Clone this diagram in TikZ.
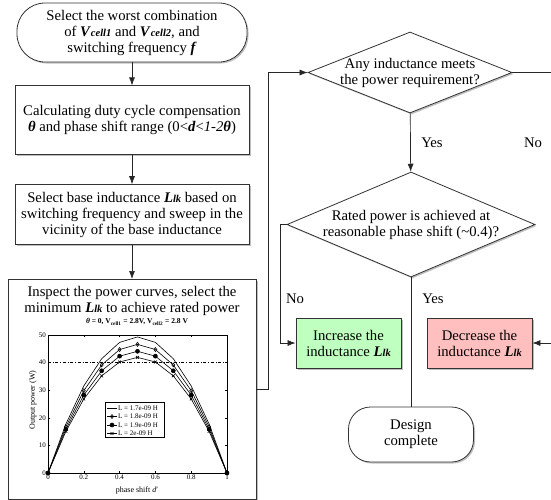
\documentclass[tikz,border=0pt]{standalone}
\usepackage{fontspec}
\setmainfont{Liberation Serif}
\usetikzlibrary{positioning,shapes.geometric,shadows,plotmarks,arrows.meta,calc}

\definecolor{incgreen}{RGB}{191,255,191}
\definecolor{decred}{RGB}{255,191,191}

\newcommand{\Vcell}[1]{\textbf{\textit{V}}{\fontsize{10.5}{12}\selectfont\textbf{\textit{cell#1}}}}
\newcommand{\Llk}{\textbf{\textit{L}}{\fontsize{10.5}{12}\selectfont\textbf{\textit{lk}}}}
\newcommand{\bth}{\textbf{\textit{θ}}}

\tikzset{
  procbox/.style={draw=black!80, line width=0.8pt, fill=white, align=center, inner sep=2pt,
    drop shadow={shadow xshift=1.5pt, shadow yshift=-1.5pt, opacity=0.5}},
  termbox/.style={procbox, rounded corners=24pt},
  decbox/.style={procbox, diamond, inner sep=-2pt},
  flow/.style={-{Latex[length=8pt,width=6pt]}, line width=0.7pt, draw=black!85},
  link/.style={line width=0.7pt, draw=black!85},
  lbl/.style={font=\fontsize{14.7}{16}\selectfont},
  ticklbl/.style={font=\fontsize{7}{8}\selectfont, inner sep=1pt},
}

\begin{document}
\begin{tikzpicture}[x=1pt, y=-1pt, font=\fontsize{14.7}{16}\selectfont]
\useasboundingbox (0,0) rectangle (551,499);

% left column
\node (worst) [termbox, rounded corners=28pt, minimum width=230pt, minimum height=59pt] at (132,32.5)
  {Select the worst combination\\ of \Vcell{1} and \Vcell{2}, and\\ switching frequency \textbf{\textit{f}}};
\node (comp) [procbox, below=23pt of worst, minimum width=234pt, minimum height=69pt]
  {Calculating duty cycle compensation\\ \bth{} and phase shift range (0<\textbf{\textit{d}}<\textit{1-2}\bth)};
\node (base) [procbox, below=29pt of comp, minimum width=234pt, minimum height=60pt]
  {Select base inductance \Llk{} based on\\ switching frequency and sweep in the\\ vicinity of the base inductance};
\node (inspect) [procbox, below=34pt of base, minimum width=248pt, minimum height=220pt] {};
\node (inspecttxt) [below=4pt of inspect.north, align=center]
  {Inspect the power curves, select the\\ minimum \Llk{} to achieve rated power};

% power curves
\node (ptitle) [font=\fontsize{7.5}{8}\selectfont\bfseries] at (137,322)
  {\textit{θ} = 0, V\textsubscript{cell1} = 2.8V, V\textsubscript{cell2} = 2.8 V};
\draw[line width=0.5pt] (48,335) rectangle (227,473);
\foreach \t in {0,0.2,0.4,0.6,0.8,1} {
  \draw[line width=0.4pt] ({48+179*\t},473) -- ++(0,-2) ({48+179*\t},335) -- ++(0,2);
  \node[ticklbl, below] at ({48+179*\t},474) {\t};
}
\foreach \v in {0,10,...,50} {
  \draw[line width=0.4pt] (48,{473-2.76*\v}) -- ++(2,0) (227,{473-2.76*\v}) -- ++(-2,0);
  \node[ticklbl, left] at (47,{473-2.76*\v}) {\v};
}
\draw[dash dot, line width=0.5pt] (48,{473-2.76*40}) -- (227,{473-2.76*40});
\foreach \pk/\mk/\mf in {49.3/none/black, 46.6/diamond/white, 44.1/*/black, 41.9/x/black}
  \draw[line width=0.6pt, mark=\mk, mark size=2pt, mark options={fill=\mf}]
    plot[domain=0:1, samples=11] ({48+179*\x}, {473-11.04*\pk*\x*(1-\x)});
\node (legend) [draw, line width=0.4pt, fill=white, minimum width=59pt, minimum height=35pt] at (134.5,419.5) {};
\foreach \lv/\mk/\mf [count=\i] in {1.7e-09/none/black, 1.8e-09/diamond/white, 1.9e-09/*/black, 2e-09/x/black} {
  \pgfmathsetmacro\ly{399.5+8.5*\i}
  \draw[line width=0.6pt] (107,\ly) -- (117,\ly);
  \path[mark=\mk, mark size=2pt, mark options={fill=\mf, line width=0.6pt}] plot coordinates {(112,\ly)};
  \node[ticklbl, anchor=west] at (117,\ly) {L = \lv{} H};
}
\node (ylab) [font=\fontsize{8}{9}\selectfont, rotate=90] at (33,400) {Output power (W)};
\node (xlab) [font=\fontsize{8}{9}\selectfont] at (137,491) {phase shift \textit{d}′};

% right column
\node (any) [decbox, minimum width=204pt, minimum height=81pt, aspect=2.5] at (410,72.5)
  {Any inductance meets\\ the power requirement?};
\node (rated) [decbox, minimum width=248pt, minimum height=105pt, aspect=2.36] at (411,224.5)
  {Rated power is achieved at\\ reasonable phase shift (\textasciitilde0.4)?};
\node (inc) [procbox, fill=incgreen, minimum width=105pt, minimum height=50pt] at (348.5,343)
  {Increase the\\ inductance \Llk};
\node (dec) [procbox, fill=decred, minimum width=105pt, minimum height=50pt] at (479.5,343)
  {Decrease the\\ inductance \Llk};
\node (done) [termbox, rounded corners=22pt, minimum width=125pt, minimum height=55pt] at (411,434.5)
  {Design\\ complete};

% connectors
\draw[flow] (worst) -- (comp);
\draw[flow] (comp) -- (base);
\draw[flow] (base) -- (inspect);
\draw[flow] (inspect.east) -- ++(12,0) |- (any.west);
\draw[flow] (any) -- (rated);
\draw[flow] (any.east) -- ++(50,0) |- (dec.east);
\draw[flow] (rated.west) -- ++(-6,0) |- (inc.west);
\draw[link] (rated) -- (done);

\node (yes1) [lbl] at (432,143) {Yes};
\node (no1) [lbl] at (533,143) {No};
\node (no2) [lbl] at (295,299) {No};
\node (yes2) [lbl] at (433,299) {Yes};
\end{tikzpicture}
\end{document}
